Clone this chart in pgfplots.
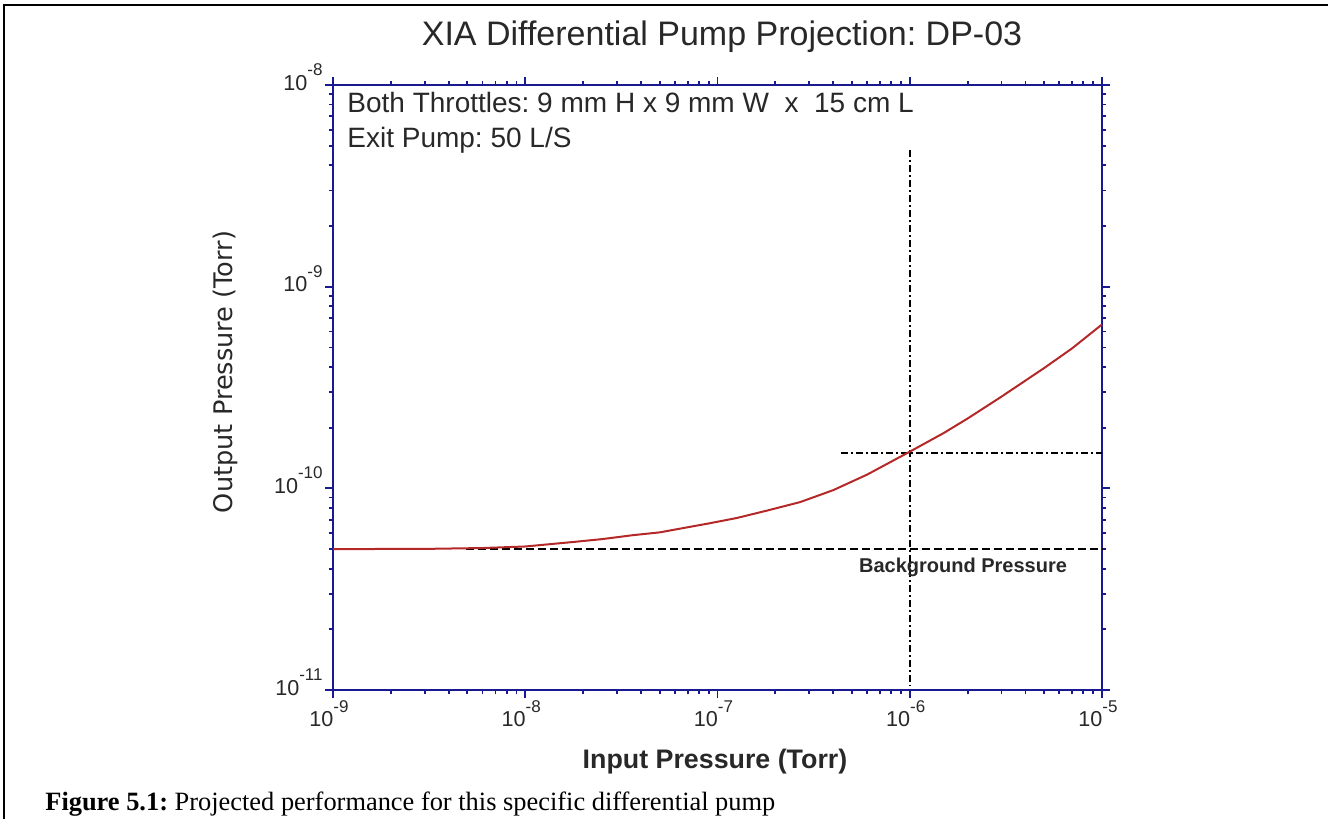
\documentclass[border=0pt]{standalone}
\usepackage{fontspec}
\setmainfont{Liberation Sans}
\newfontfamily\serif{Liberation Serif}
\newfontfamily\dejavu{DejaVu Sans}
\usepackage{pgfplots}
\pgfplotsset{compat=1.18}
\definecolor{axblue}{RGB}{25,25,145}
\definecolor{curvered}{RGB}{180,40,40}
\definecolor{txt}{RGB}{40,40,40}
\newcommand\sps[1]{\raisebox{0.68em}{\fontsize{8.5}{9}\selectfont#1}}
\frenchspacing

\begin{document}
\begin{tikzpicture}
\useasboundingbox (0,0) rectangle (664pt,-409.5pt);
\draw[black, line width=0.8pt] (2pt,-409.5pt) -- (2pt,-2.5pt) -- (664pt,-2.5pt);
\begin{axis}[
  at={(166.5pt,-345pt)}, anchor=south west,
  scale only axis, width=384.5pt, height=302.5pt,
  xmode=log, ymode=log,
  xmin=1e-9, xmax=1e-5, ymin=1e-11, ymax=1e-8,
  axis line style={axblue, line width=1pt},
  every tick/.style={axblue, line width=0.9pt},
  tick align=outside,
  major tick length=4pt, minor tick length=2pt,
  xtick={1e-9,1e-8,1e-7,1e-6,1e-5},
  xticklabels={\llap{10}\sps{-9},\llap{10}\sps{-8},\llap{10}\sps{-7},\llap{10}\sps{-6},\llap{10}\sps{-5}},
  ytick={1e-11,1e-10,1e-9,1e-8},
  yticklabels={10\sps{-11},10\sps{-10},10\sps{-9},10\sps{-8}},
  xticklabel style={anchor=north west, inner sep=0pt, yshift=-1pt, font=\fontsize{10.8}{12}\selectfont, text=txt},
  yticklabel style={anchor=base east, inner sep=0pt, xshift=-1pt, yshift=-2.5pt, font=\fontsize{10.8}{12}\selectfont, text=txt},
  clip=false,
]
\addplot[black, line width=1pt, dash pattern=on 4pt off 2pt] coordinates {(4.9e-9,5e-11) (1e-5,5e-11)};
\addplot[black, line width=1pt, dash pattern=on 3.5pt off 1.5pt on 1pt off 1.5pt] coordinates {(4.4e-7,1.5e-10) (1e-5,1.5e-10)};
\addplot[black, line width=1pt, dash pattern=on 3.5pt off 1.5pt on 1pt off 1.5pt] coordinates {(1e-6,4.75e-9) (1e-6,1.05e-11)};
\addplot[curvered, line width=1pt] coordinates {
(1e-9,5.00e-11) (3e-9,5.01e-11) (6e-9,5.06e-11) (1e-8,5.15e-11) (1.77e-8,5.42e-11)
(2.5e-8,5.6e-11) (3.63e-8,5.86e-11) (5e-8,6.05e-11) (6.6e-8,6.35e-11) (9e-8,6.7e-11)
(1.26e-7,7.13e-11) (1.8e-7,7.75e-11) (2.69e-7,8.55e-11) (4e-7,9.8e-11) (6e-7,1.17e-10)
(1e-6,1.52e-10) (1.5e-6,1.88e-10) (2e-6,2.22e-10) (3e-6,2.85e-10) (5e-6,3.95e-10)
(7e-6,4.95e-10) (1e-5,6.5e-10)};
\end{axis}
\node[anchor=base, font=\fontsize{17}{20}\selectfont, text=txt] at (361pt,-22.5pt) {XIA Differential Pump Projection: DP-03};
\node[anchor=base west, inner sep=0pt, font=\fontsize{14}{16}\selectfont, text=txt] at (173.5pt,-56pt) {Both Throttles: 9 mm H x 9 mm W\ \ x\ \ 15 cm L};
\node[anchor=base west, inner sep=0pt, font=\fontsize{14}{16}\selectfont, text=txt] at (173.5pt,-73.5pt) {Exit Pump: 50 L/S};
\node[anchor=base, inner sep=0pt, font=\bfseries\fontsize{10}{12}\selectfont, text=txt] at (481.5pt,-286pt) {Background Pressure};
\node[anchor=base, inner sep=0pt, font=\bfseries\fontsize{13.4}{16}\selectfont, text=txt] at (357.5pt,-384pt) {Input Pressure (Torr)};
\node[anchor=base, rotate=90, inner sep=0pt, font=\dejavu\fontsize{12.8}{15}\selectfont, text=txt] at (116pt,-186pt) {Output Pressure (Torr)};
\node[anchor=base west, inner sep=0pt, font=\serif\fontsize{13.2}{15}\selectfont, text=black] at (22.5pt,-405pt) {\textbf{Figure 5.1:} Projected performance for this specific differential pump};
\end{tikzpicture}
\end{document}
